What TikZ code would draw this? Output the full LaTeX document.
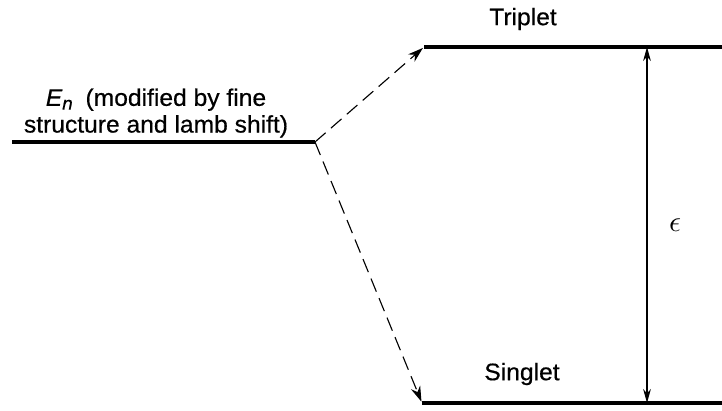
\documentclass[tikz,border=0pt]{standalone}
\usepackage{fontspec}
\usetikzlibrary{arrows.meta}
\newfontfamily\levelfont{Liberation Sans}[FakeStretch=1.03, FakeBold=0.5]
\tikzset{
  level/.style={line width=2.9pt},
  levellabel/.style={font=\levelfont\fontsize{17}{19}\selectfont, inner sep=0pt, align=center},
  shiftarrow/.style={line width=0.8pt, dash pattern=on 10pt off 5pt, shorten >=1pt, -{Stealth[length=11pt, width=7pt]}},
  gaparrow/.style={line width=0.9pt, {Stealth[length=10pt, width=5.5pt]}-{Stealth[length=10pt, width=5.5pt]}},
}

\begin{document}
\begin{tikzpicture}[x=0.025cm, y=-0.025cm]
    \useasboundingbox (0,0) rectangle (722,410);
    % energy levels
    \coordinate (enL) at (12,142);
    \coordinate (enR) at (315,142);
    \coordinate (tripL) at (424,47);
    \coordinate (tripR) at (722,47);
    \coordinate (singL) at (422,403);
    \coordinate (singR) at (722,403);
    \draw[level] (enL) -- (enR);
    \draw[level] (tripL) -- (tripR);
    \draw[level] (singL) -- (singR);
    % labels
    \node[levellabel] (enlabel) at (156,113) {{\itshape E\raisebox{-0.3ex}{\fontsize{13}{13}\selectfont n}}\hspace{0.25em} (modified by fine\\structure and lamb shift)};
    \node[levellabel] (triplabel) at (523,19) {Triplet};
    \node[levellabel] (singlabel) at (522,374) {Singlet};
    % splitting
    \draw[shiftarrow] (enR) -- (tripL);
    \draw[shiftarrow] (enR) -- (singL);
    \coordinate (gaptop) at (647,47);
    \coordinate (gapbot) at (647,403);
    \draw[gaparrow] (gaptop) -- (gapbot);
    \node[scale=2.1] (eps) at (675,225) {$\epsilon$};
\end{tikzpicture}
\end{document}
